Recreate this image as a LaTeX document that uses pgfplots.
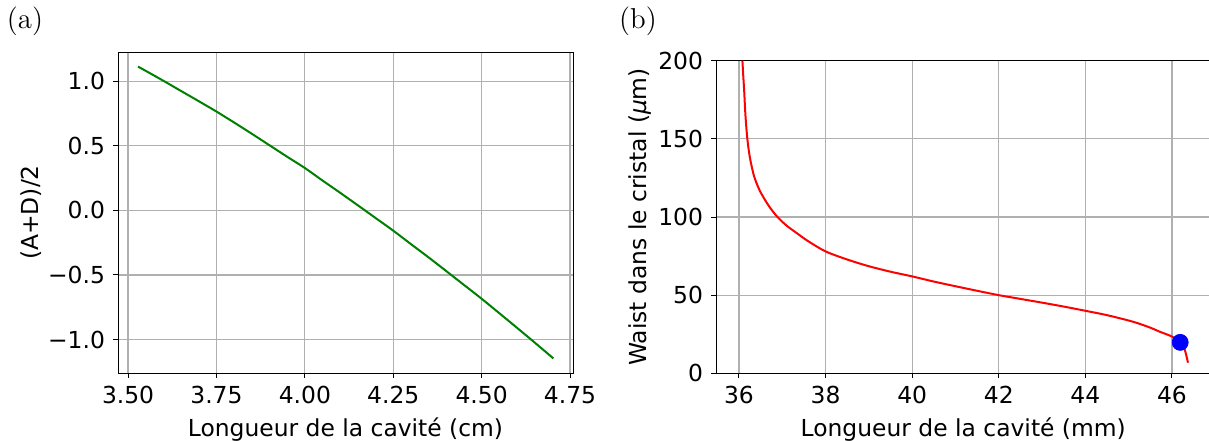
\documentclass[border=0pt]{standalone}
\usepackage{fontspec}
\newfontfamily\djv{DejaVu Sans}
\usepackage{pgfplots}
\pgfplotsset{compat=1.18}

\definecolor{gridgray}{RGB}{176,176,176}
\definecolor{mplgreen}{RGB}{0,128,0}

\pgfplotsset{
  mpl/.style={
    scale only axis,
    anchor=south west,
    grid=major,
    major grid style={color=gridgray, line width=0.6pt},
    axis line style={black, line width=0.5pt},
    tick align=outside,
    major tick length=2.5pt,
    tick style={black, line width=0.5pt},
    xtick pos=bottom, ytick pos=left,
    every tick label/.append style={font=\djv\fontsize{11.7}{14}\selectfont},
    label style={font=\djv\fontsize{11.7}{14}\selectfont},
    xticklabel style={yshift=-0.5pt},
    yticklabel style={xshift=-0.5pt},
    ylabel shift=-3.5pt,
  }
}

\begin{document}
\begin{tikzpicture}
% panel (a)
\begin{axis}[mpl,
  at={(59pt,33.5pt)}, width=227.5pt, height=160.5pt,
  xmin=3.4715, xmax=4.7585, ymin=-1.259, ymax=1.226,
  xtick={3.5,3.75,4.0,4.25,4.5,4.75},
  xticklabels={3.50,3.75,4.00,4.25,4.50,4.75},
  ytick={-1,-0.5,0,0.5,1},
  yticklabels={−1.0,−0.5,0.0,0.5,1.0},
  xlabel={Longueur de la cavité (cm)},
  ylabel={(A+D)/2},
]
\addplot[mplgreen, line width=1pt, smooth] coordinates {
  (3.528,1.113) (3.55,1.080) (3.60,1.003) (3.65,0.924) (3.70,0.845)
  (3.75,0.765) (3.80,0.680) (3.85,0.593) (3.90,0.504) (3.95,0.415)
  (4.00,0.328) (4.05,0.231) (4.10,0.136) (4.15,0.039) (4.20,-0.059)
  (4.25,-0.157) (4.30,-0.261) (4.35,-0.364) (4.40,-0.470) (4.45,-0.577)
  (4.50,-0.684) (4.55,-0.796) (4.60,-0.909) (4.65,-1.023) (4.703,-1.146)
};
\end{axis}
% panel (b)
\begin{axis}[mpl,
  at={(358pt,33.35pt)}, width=247.25pt, height=156.3pt,
  xmin=35.47, xmax=46.89, ymin=0, ymax=200,
  xtick={36,38,40,42,44,46},
  ytick={0,50,100,150,200},
  xticklabels={36,38,40,42,44,46},
  yticklabels={0,50,100,150,200},
  xlabel={Longueur de la cavité (mm)},
  ylabel={Waist dans le cristal ({\itshape μ}m)},
]
\addplot[red, line width=1pt, smooth, tension=0.5] coordinates {
  (36.08,200) (36.10,190) (36.12,181) (36.15,165) (36.19,151)
  (36.23,142) (36.27,135.5) (36.35,126) (36.47,117.5) (36.60,111)
  (36.73,105.5) (36.89,100) (37.10,94.5) (37.34,89.6) (37.60,84.5)
  (38.00,78) (38.50,72.8) (39.00,68.5) (39.50,65) (40.00,62)
  (40.50,58.7) (41.00,55.7) (41.50,52.8) (42.00,50) (42.50,47.6)
  (43.00,45.2) (43.50,42.7) (44.00,40) (44.50,37.2) (45.10,33)
  (45.50,29.2) (45.70,26.8) (46.00,23.5) (46.19,19.8) (46.29,15.5) (46.37,6.8)
};
\addplot[only marks, mark=*, mark size=4pt, blue, mark options={draw=blue, fill=blue}] coordinates {(46.19,19.8)};
\end{axis}
\node[font=\fontsize{14.4}{17}\selectfont] at (12.5pt,209.5pt) {(a)};
\node[font=\fontsize{14.4}{17}\selectfont] at (319pt,209.5pt) {(b)};
\pgfresetboundingbox
\useasboundingbox (0,0) rectangle (604.5pt,220pt);
\end{tikzpicture}
\end{document}
